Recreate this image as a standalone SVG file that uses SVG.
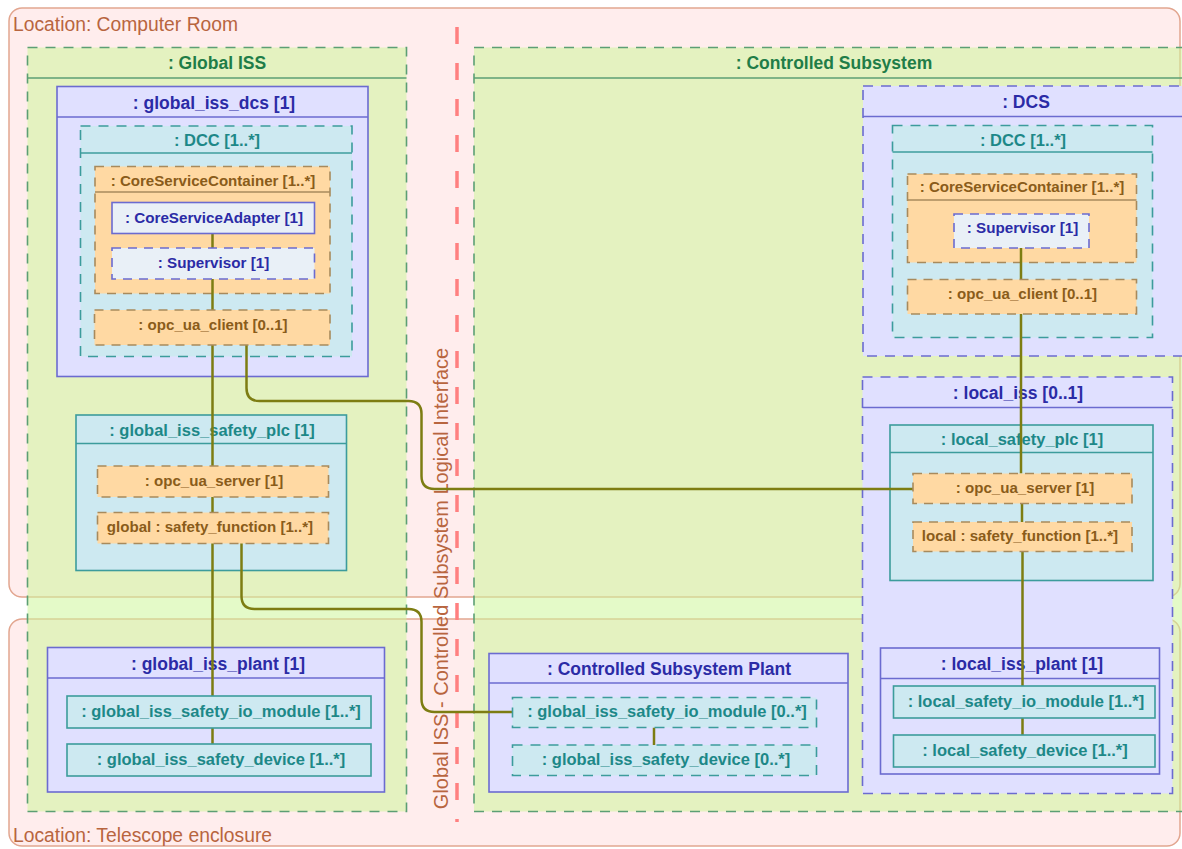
<svg xmlns="http://www.w3.org/2000/svg" width="1182" height="849" viewBox="0 0 1182 849">
<style>
.loc{fill:#ffeded;stroke:#e2a690;stroke-width:1.5}
.grn{fill:#cdf59b;fill-opacity:.55;stroke:#5c9f74;stroke-width:1.6;stroke-dasharray:10 8}
.lav{fill:#e0e0ff;stroke:#6b6bd0;stroke-width:1.6}
.lavd{fill:#e0e0ff;stroke:#6b6bd0;stroke-width:1.6;stroke-dasharray:10 8}
.cy{fill:#cde9f1;stroke:#3c9c9c;stroke-width:1.6}
.cyd{fill:#cde9f1;stroke:#3c9c9c;stroke-width:1.6;stroke-dasharray:10 8}
.or{fill:#ffd9a3;stroke:#a88a5c;stroke-width:1.6;stroke-dasharray:9 7}
.sv{fill:#e9f0f7;stroke:#6b6bd0;stroke-width:1.6}
.svd{fill:#e9f0f7;stroke:#6b6bd0;stroke-width:1.6;stroke-dasharray:9 7}
.hg{stroke:#5c9f74;stroke-width:1.6}
.hb{stroke:#6b6bd0;stroke-width:1.6}
.hc{stroke:#3c9c9c;stroke-width:1.6}
.ho{stroke:#a88a5c;stroke-width:1.6}
.conn{fill:none;stroke:#7d7d12;stroke-width:2.5}
.iface{fill:none;stroke:#ff8080;stroke-width:3.5;stroke-dasharray:17 19}
text{font-family:"Liberation Sans",Arial,Helvetica,sans-serif}
.t{font-weight:bold;text-anchor:middle;dominant-baseline:central}
.tg{fill:#1f7d48;font-size:17.5px}
.tb{fill:#2b2ba6;font-size:17.5px}
.tbs{fill:#2b2ba6;font-size:15.2px}
.tc{fill:#1d8888;font-size:16.5px}
.to{fill:#8a5c1a;font-size:15.1px}
.lt{fill:#b8653f;font-size:19.3px}
.rt{fill:#b8653f;font-size:20px}
</style>

<g id="loc-computer-room">
<rect class="loc" x="9" y="8" width="1171" height="589" rx="13"/>
<text class="lt" x="13" y="31">Location: Computer Room</text>
</g>
<g id="loc-telescope">
<rect class="loc" x="9" y="619" width="1171" height="227" rx="13"/>
<text class="lt" x="13" y="842">Location: Telescope enclosure</text>
</g>

<g id="interface">
<line class="iface" x1="457" y1="27" x2="457" y2="822"/>
<text class="rt" transform="translate(448,578.5) rotate(-90)" text-anchor="middle">Global ISS - Controlled Subsystem Logical Interface</text>
</g>

<g id="global-iss">
<rect class="grn" x="27.5" y="47.5" width="379" height="764"/>
<line class="hg" x1="27.5" y1="78" x2="406.5" y2="78"/>
<text class="t tg" x="217" y="63">: Global ISS</text>
</g>
<g id="controlled-subsystem">
<rect class="grn" x="474" y="47.5" width="730" height="764"/>
<line class="hg" x1="474" y1="78" x2="1204" y2="78"/>
<text class="t tg" x="834" y="63">: Controlled Subsystem</text>
</g>

<g id="global-iss-dcs">
<rect class="lav" x="57" y="86.5" width="311" height="290"/>
<line class="hb" x1="57" y1="117" x2="368" y2="117"/>
<text class="t tb" x="214" y="102.5">: global_iss_dcs [1]</text>
</g>
<g id="g-dcc">
<rect class="cyd" x="80.5" y="126" width="271.5" height="230.5"/>
<line class="hc" x1="80.5" y1="153" x2="352" y2="153"/>
<text class="t tc" x="217" y="139.5">: DCC [1..*]</text>
</g>
<g id="g-csc">
<rect class="or" x="95" y="166.5" width="235" height="127"/>
<line class="ho" x1="95" y1="192" x2="330" y2="192"/>
<text class="t to" x="213" y="180">: CoreServiceContainer [1..*]</text>
</g>

<g id="global-iss-safety-plc">
<rect class="cy" x="76" y="415" width="270.5" height="155.5"/>
<line class="hc" x1="76" y1="443.5" x2="346.5" y2="443.5"/>
<text class="t tc" x="212" y="430">: global_iss_safety_plc [1]</text>
</g>

<g id="global-iss-plant">
<rect class="lav" x="47.5" y="647.5" width="337" height="144.5"/>
<line class="hb" x1="47.5" y1="678" x2="384.5" y2="678"/>
<text class="t tb" x="218" y="664">: global_iss_plant [1]</text>
</g>

<g id="cs-plant">
<rect class="lav" x="489" y="653.5" width="359" height="138.5"/>
<line class="hb" x1="489" y1="683" x2="848" y2="683"/>
<text class="t tb" x="669" y="669">: Controlled Subsystem Plant</text>
</g>

<g id="dcs">
<rect class="lavd" x="863" y="86" width="340" height="270"/>
<line class="hb" x1="863" y1="116.5" x2="1203" y2="116.5"/>
<text class="t tb" x="1026" y="102">: DCS</text>
</g>
<g id="r-dcc">
<rect class="cyd" x="892.5" y="125.5" width="260" height="212"/>
<line class="hc" x1="892.5" y1="152" x2="1152.5" y2="152"/>
<text class="t tc" x="1023" y="139.5">: DCC [1..*]</text>
</g>
<g id="r-csc">
<rect class="or" x="907.5" y="174" width="229" height="88.5"/>
<line class="ho" x1="907.5" y1="200" x2="1136.5" y2="200"/>
<text class="t to" x="1022" y="186.5">: CoreServiceContainer [1..*]</text>
</g>

<g id="local-iss">
<rect class="lavd" x="862.5" y="377" width="310" height="416.5"/>
<line class="hb" x1="862.5" y1="407.5" x2="1172.5" y2="407.5"/>
<text class="t tb" x="1018" y="393">: local_iss [0..1]</text>
</g>
<g id="local-safety-plc">
<rect class="cy" x="890" y="425" width="263" height="155.5"/>
<line class="hc" x1="890" y1="452.5" x2="1153" y2="452.5"/>
<text class="t tc" x="1022" y="439">: local_safety_plc [1]</text>
</g>
<g id="local-iss-plant">
<rect class="lav" x="880.5" y="648" width="279" height="126"/>
<line class="hb" x1="880.5" y1="678.5" x2="1159.5" y2="678.5"/>
<text class="t tb" x="1022" y="663.5">: local_iss_plant [1]</text>
</g>

<g id="connectors">
<line class="conn" x1="212.5" y1="233" x2="212.5" y2="248"/>
<line class="conn" x1="212.5" y1="279" x2="212.5" y2="310"/>
<line class="conn" x1="212.5" y1="345" x2="212.5" y2="466"/>
<line class="conn" x1="212.5" y1="497" x2="212.5" y2="512"/>
<line class="conn" x1="212.5" y1="543" x2="212.5" y2="696"/>
<line class="conn" x1="212.5" y1="728" x2="212.5" y2="744"/>
<path class="conn" d="M246.5,345 V388 Q246.5,401 259.5,401 H408.5 Q421.5,401 421.5,414 V476 Q421.5,489 434.5,489 H913"/>
<path class="conn" d="M241.5,543 V596 Q241.5,609 254.5,609 H408.5 Q421.5,609 421.5,622 V699 Q421.5,712 434.5,712 H512"/>
<line class="conn" x1="654" y1="727.5" x2="654" y2="745"/>
<line class="conn" x1="1021" y1="248" x2="1021" y2="279.5"/>
<line class="conn" x1="1021" y1="314" x2="1021" y2="473.5"/>
<line class="conn" x1="1022" y1="503" x2="1022" y2="522"/>
<line class="conn" x1="1022.5" y1="551.5" x2="1022.5" y2="686"/>
<line class="conn" x1="1022.5" y1="718" x2="1022.5" y2="735"/>
</g>

<g id="g-adapter">
<rect class="sv" x="112" y="202.5" width="202.5" height="31"/>
<text class="t tbs" x="214" y="217">: CoreServiceAdapter [1]</text>
</g>
<g id="g-supervisor">
<rect class="svd" x="112" y="248" width="202.5" height="31"/>
<text class="t tbs" x="213.5" y="262.5">: Supervisor [1]</text>
</g>
<g id="g-client">
<rect class="or" x="94.5" y="310" width="235.5" height="35"/>
<text class="t to" x="213" y="324">: opc_ua_client [0..1]</text>
</g>
<g id="g-server">
<rect class="or" x="97.5" y="466" width="231" height="31"/>
<text class="t to" x="214" y="480.5">: opc_ua_server [1]</text>
</g>
<g id="g-function">
<rect class="or" x="97.5" y="512.5" width="231" height="31"/>
<text class="t to" x="210" y="526.5">global : safety_function [1..*]</text>
</g>
<g id="g-io-module">
<rect class="cy" x="67" y="696" width="304" height="32"/>
<text class="t tc" x="221" y="711">: global_iss_safety_io_module [1..*]</text>
</g>
<g id="g-device">
<rect class="cy" x="67" y="744" width="304" height="32"/>
<text class="t tc" x="221" y="759">: global_iss_safety_device [1..*]</text>
</g>

<g id="cs-io-module">
<rect class="cyd" x="512.5" y="697.5" width="304" height="30"/>
<text class="t tc" x="667" y="711">: global_iss_safety_io_module [0..*]</text>
</g>
<g id="cs-device">
<rect class="cyd" x="512.5" y="745" width="304" height="30.5"/>
<text class="t tc" x="666" y="759">: global_iss_safety_device [0..*]</text>
</g>

<g id="r-supervisor">
<rect class="svd" x="954" y="214" width="135" height="34"/>
<text class="t tbs" x="1022.5" y="227">: Supervisor [1]</text>
</g>
<g id="r-client">
<rect class="or" x="907.5" y="279.5" width="229" height="34.5"/>
<text class="t to" x="1022.5" y="293.5">: opc_ua_client [0..1]</text>
</g>
<g id="l-server">
<rect class="or" x="913" y="473.5" width="219" height="30"/>
<text class="t to" x="1025" y="487">: opc_ua_server [1]</text>
</g>
<g id="l-function">
<rect class="or" x="913" y="522" width="219" height="29.5"/>
<text class="t to" x="1020" y="535.5">local : safety_function [1..*]</text>
</g>
<g id="l-io-module">
<rect class="cy" x="893.5" y="686" width="261.5" height="32"/>
<text class="t tc" x="1026" y="700.5">: local_safety_io_module [1..*]</text>
</g>
<g id="l-device">
<rect class="cy" x="893.5" y="735" width="261.5" height="32"/>
<text class="t tc" x="1025" y="749.5">: local_safety_device [1..*]</text>
</g>
</svg>
